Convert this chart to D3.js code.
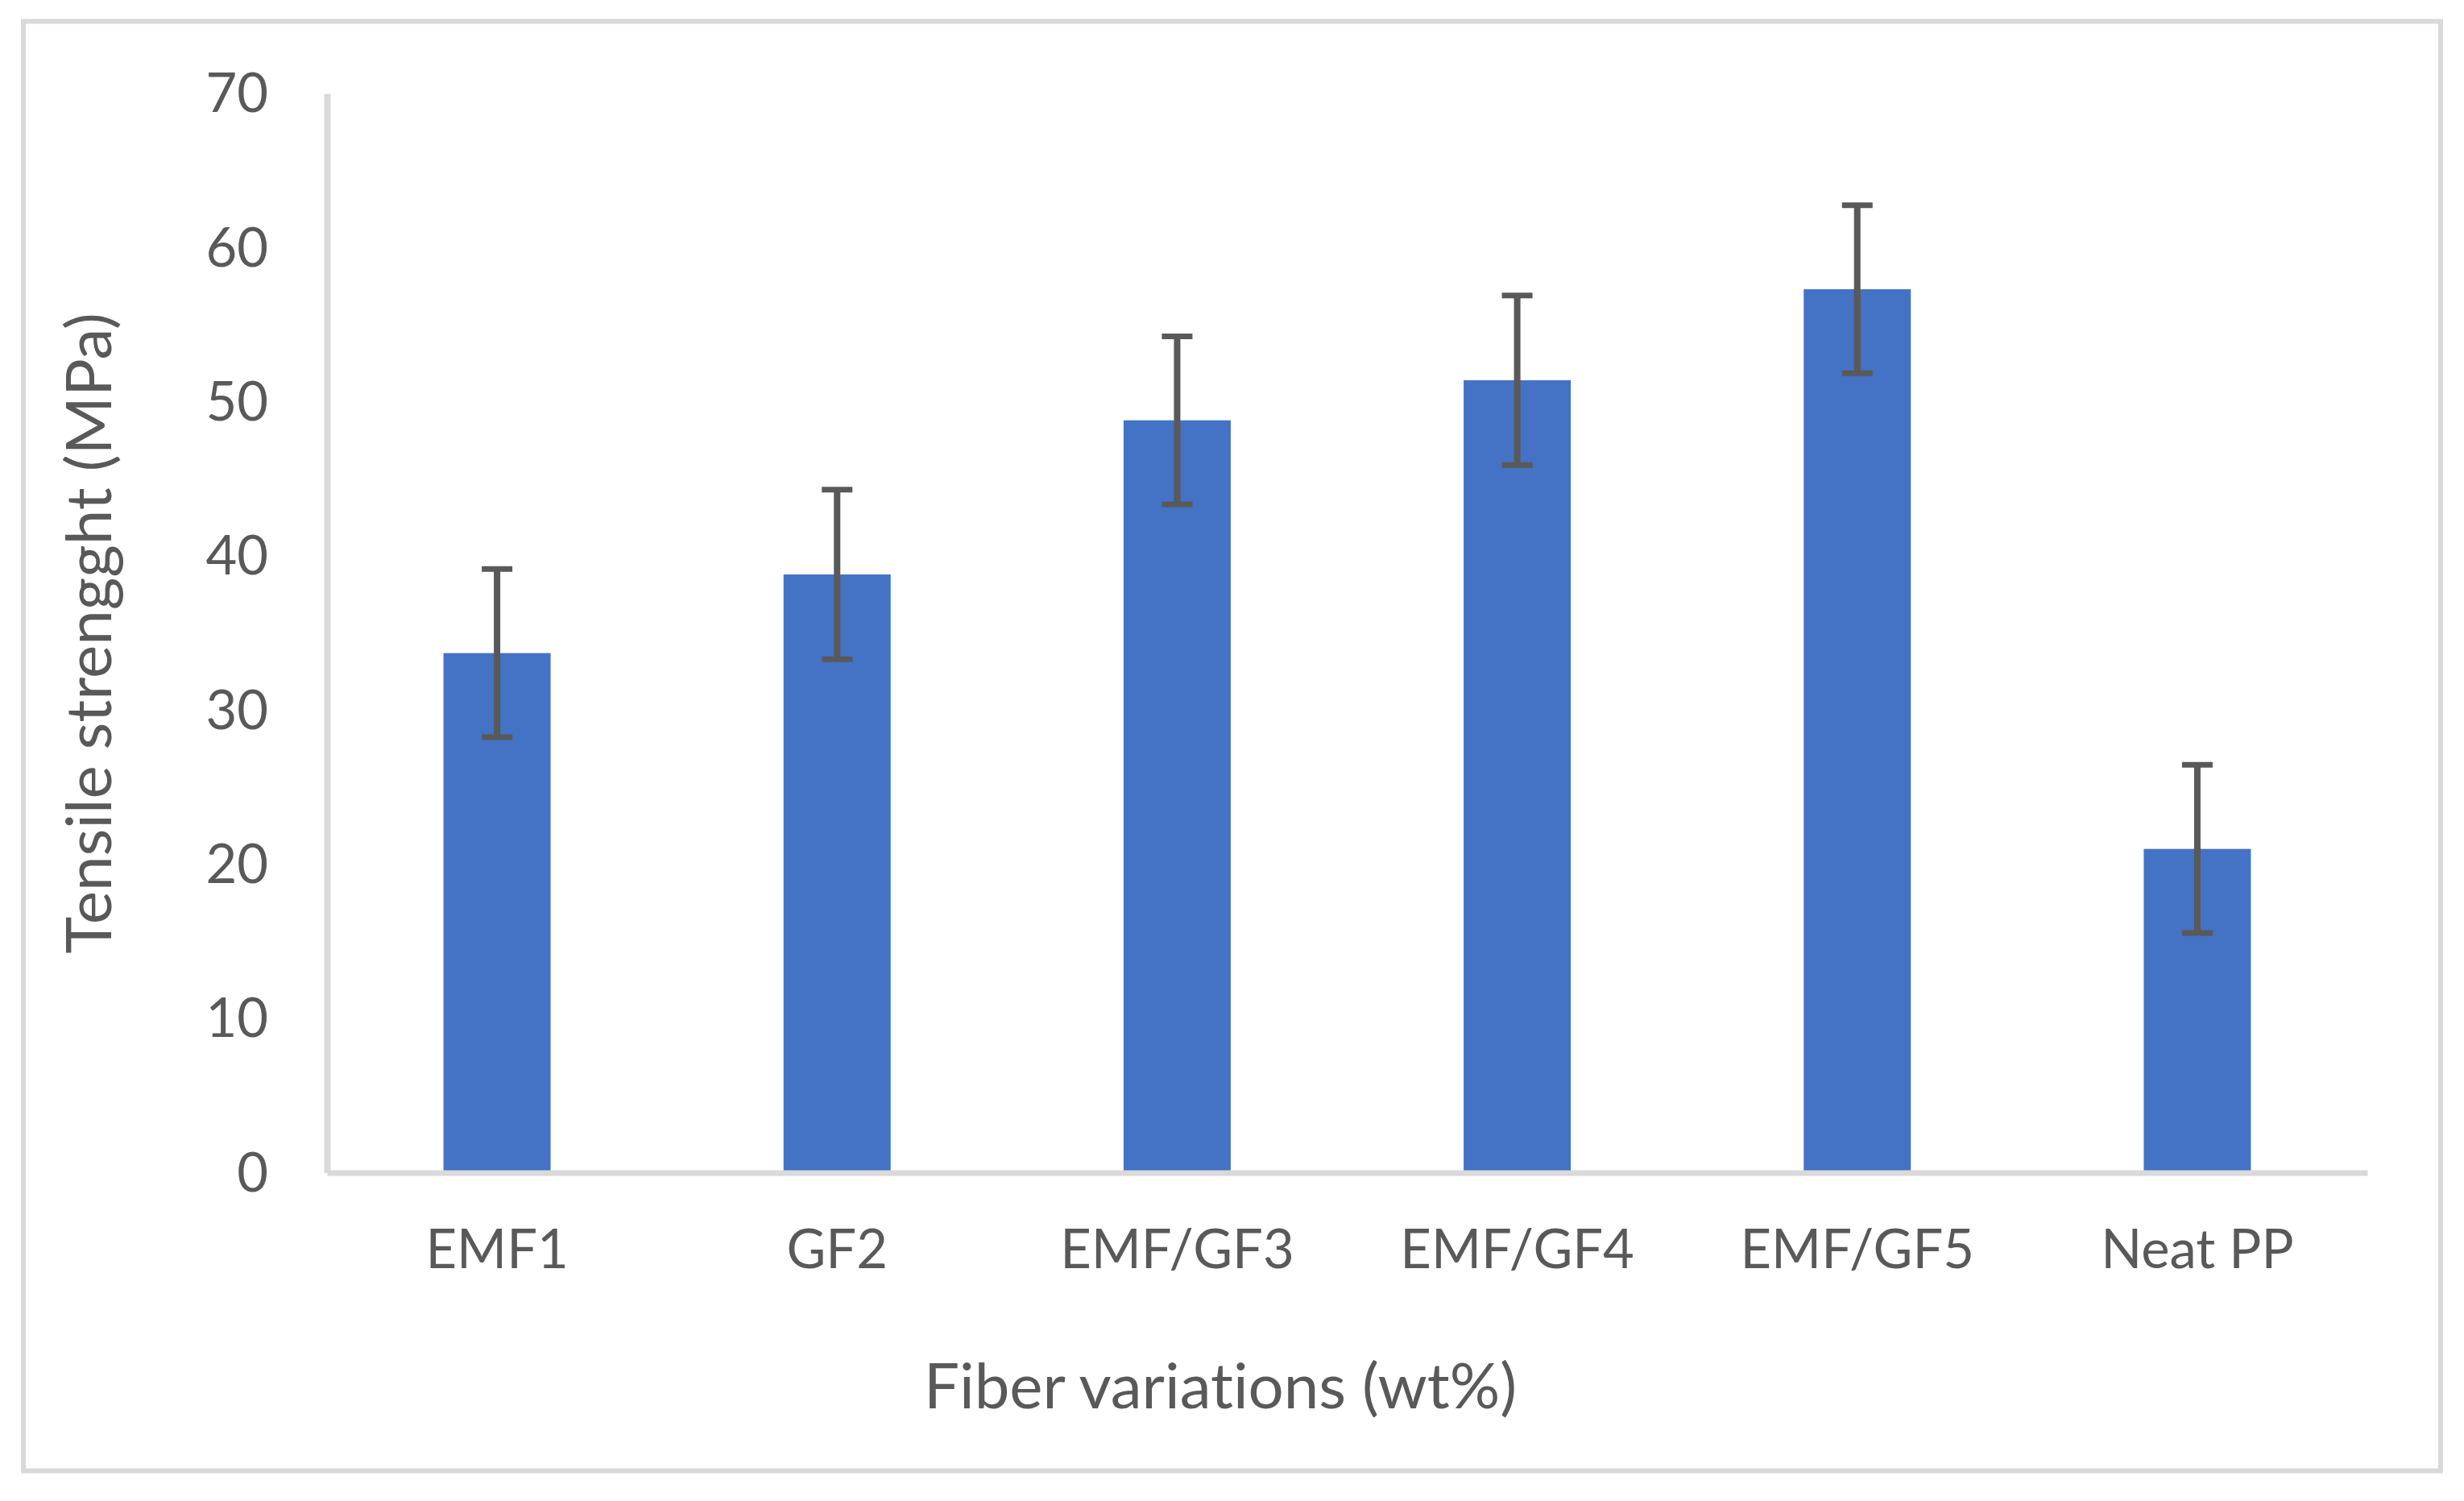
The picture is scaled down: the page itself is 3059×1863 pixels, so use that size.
<!DOCTYPE html>
<html><head><meta charset="utf-8">
<script src="https://cdn.jsdelivr.net/npm/d3@7"></script>
<style>html,body{margin:0;padding:0;background:#fff;} svg{display:block;} text{font-variant-ligatures:none;font-feature-settings:"liga" 0;}</style>
</head><body>
<svg id="chart" width="3059" height="1863"></svg>
<script>
// ---- data ----
const categories = ["EMF1", "GF2", "EMF/GF3", "EMF/GF4", "EMF/GF5", "Neat PP"];
const values = [33.7, 38.8, 48.8, 51.4, 57.3, 21.0];
const errors = [5.45, 5.5, 5.45, 5.5, 5.45, 5.45];
const yTicks = [0, 10, 20, 30, 40, 50, 60, 70];
const xTitle = "Fiber variations (wt%)";
const yTitle = "Tensile strengght (MPa)";

// ---- layout / style ----
const W = 3059, H = 1863;
const FONT = "Lato, 'Open Sans', sans-serif";
const TEXT = "#595959", AXIS = "#d9d9d9", BAR = "#4472c4";
const plot = {left: 406, right: 2939, top: 116, bottom: 1455.5};

const svg = d3.select("#chart");

// font size fitting so the substitute font spans the same width as the original
function measure(str, size) {
  const t = svg.append("text").attr("font-family", FONT).attr("font-size", size).text(str);
  const w = t.node().getComputedTextLength();
  t.remove();
  return w;
}
const titleSize = 100 * 736 / measure(xTitle, 100);
const tickSize = titleSize * 0.95 * 74 / 82;

// border
svg.append("rect").attr("x", 29).attr("y", 26.5).attr("width", 3001).attr("height", 1799)
  .attr("fill", "#fff").attr("stroke", AXIS).attr("stroke-width", 6);

const x = d3.scaleBand().domain(categories).range([plot.left, plot.right])
  .paddingInner(0.685).paddingOuter(0.3425);
const y = d3.scaleLinear().domain([0, 70]).range([plot.bottom, plot.top]);

const data = categories.map((c, i) => ({c, v: values[i], e: errors[i]}));

// bars
svg.append("g").selectAll("rect").data(data).join("rect")
  .attr("x", d => x(d.c)).attr("width", x.bandwidth())
  .attr("y", d => y(d.v)).attr("height", d => y(0) - y(d.v))
  .attr("fill", BAR);

// axes
const gy = svg.append("g").attr("transform", `translate(${plot.left},0)`)
  .call(d3.axisLeft(y).tickValues(yTicks).tickSize(0).tickSizeOuter(0).tickPadding(73));
gy.select(".domain").attr("stroke", AXIS).attr("stroke-width", 8);
gy.selectAll("text").attr("font-family", FONT).attr("font-size", tickSize).attr("fill", TEXT).attr("dy", "0.34em");

const gx = svg.append("g").attr("transform", `translate(0,${plot.bottom})`)
  .call(d3.axisBottom(x).tickSize(0).tickSizeOuter(0));
gx.select(".domain").attr("stroke", AXIS).attr("stroke-width", 7);
gx.selectAll("text").attr("font-family", FONT).attr("font-size", tickSize).attr("fill", TEXT)
  .attr("y", 1574 - plot.bottom).attr("dy", 0);

// error bars
const eb = svg.append("g").attr("stroke", TEXT);
const cx = d => x(d.c) + x.bandwidth() / 2;
eb.selectAll("line.v").data(data).join("line").attr("class", "v")
  .attr("x1", cx).attr("x2", cx)
  .attr("y1", d => y(d.v + d.e)).attr("y2", d => y(d.v - d.e))
  .attr("stroke-width", 8);
["up", "down"].forEach(k => {
  eb.selectAll("line." + k).data(data).join("line").attr("class", k)
    .attr("x1", d => cx(d) - 19).attr("x2", d => cx(d) + 19)
    .attr("y1", d => y(k === "up" ? d.v + d.e : d.v - d.e))
    .attr("y2", d => y(k === "up" ? d.v + d.e : d.v - d.e))
    .attr("stroke-width", 7);
});

// titles
svg.append("text").attr("x", 1515).attr("y", 1748).attr("text-anchor", "middle")
  .attr("font-family", FONT).attr("font-size", titleSize).attr("fill", TEXT).text(xTitle);
svg.append("text").attr("transform", "translate(138,786) rotate(-90)").attr("text-anchor", "middle")
  .attr("font-family", FONT).attr("font-size", titleSize).attr("fill", TEXT).text(yTitle);
</script>
</body></html>
